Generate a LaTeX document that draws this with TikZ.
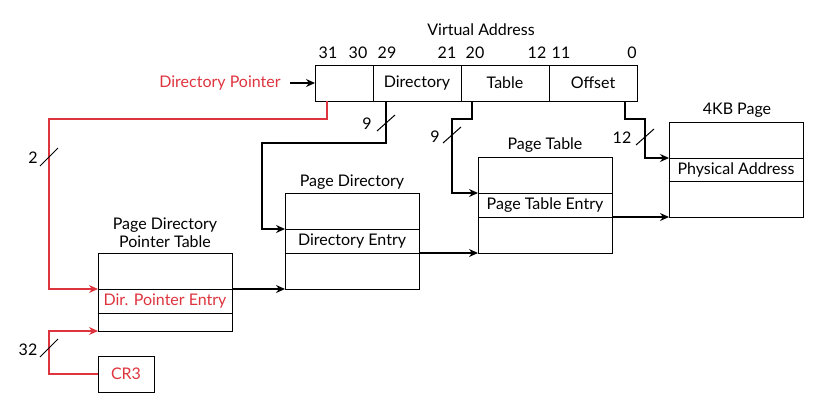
\documentclass[tikz,border=0pt]{standalone}
\usepackage{fontspec}
\setmainfont{Lato}
\usetikzlibrary{arrows.meta,calc}
\definecolor{ptred}{RGB}{222,52,62}
\begin{document}
\begin{tikzpicture}[x=1pt,y=-1pt,
  font=\fontsize{16}{18}\selectfont,
  every node/.style={outer sep=0pt},
  cell/.style={draw,line width=1pt,rectangle,inner sep=0pt,anchor=north west,minimum width=134pt},
  vcell/.style={draw,line width=1pt,rectangle,inner sep=0pt,anchor=north west,minimum height=36pt},
  conn/.style={line width=1.3pt,-{Stealth[length=9pt,width=8pt]}},
  redconn/.style={conn,draw=ptred,-{Stealth[length=9pt,width=8pt,fill=ptred]}},
  slash/.style={line width=1pt},
  lbl/.style={inner sep=0pt}]
\useasboundingbox (0,0) rectangle (818,402);
% Virtual address
\node[lbl] (vatitle) at (481,30) {Virtual Address};
\node[vcell,minimum width=58pt] (va0) at (315,65) {};
\node[vcell,minimum width=88pt] (va1) at (373,65) {Directory};
\node[vcell,minimum width=88pt] (va2) at (461,65) {Table};
\node[vcell,minimum width=88pt] (va3) at (549,65) {Offset};
\node[lbl] (b31) at (328,53) {31};
\node[lbl] (b30) at (358,53) {30};
\node[lbl] (b29) at (387,53) {29};
\node[lbl] (b21) at (447,53) {21};
\node[lbl] (b20) at (475,53) {20};
\node[lbl] (b12) at (537,53) {12};
\node[lbl] (b11) at (561,53) {11};
\node[lbl] (b0) at (632,53) {0};
\node[lbl,text=ptred] (dp) at (220,83) {Directory Pointer};
\draw[conn] (290,83) -- (va0.west);
% PDPT
\node[lbl,align=center,font=\fontsize{16}{18}\selectfont] (pdpttitle) at (165,233) {Page Directory\\Pointer Table};
\node[cell,minimum height=36pt] (pdpt1) at (98,253) {};
\node[cell,minimum height=24pt,text=ptred] (pdpt2) at (98,289) {Dir. Pointer Entry};
\node[cell,minimum height=18pt] (pdpt3) at (98,313) {};
\node[draw,line width=1pt,rectangle,inner sep=0pt,anchor=north west,minimum width=56pt,minimum height=36pt,text=ptred] (cr3) at (98,356) {CR3};
% Page directory
\node[lbl] (pdtitle) at (352,182) {Page Directory};
\node[cell,minimum height=36pt] (pd1) at (285,193) {};
\node[cell,minimum height=24pt] (pd2) at (285,229) {Directory Entry};
\node[cell,minimum height=36pt] (pd3) at (285,253) {};
% Page table
\node[lbl] (pttitle) at (545,145) {Page Table};
\node[cell,minimum height=36pt] (pt1) at (478,157) {};
\node[cell,minimum height=24pt] (pt2) at (478,193) {Page Table Entry};
\node[cell,minimum height=36pt] (pt3) at (478,217) {};
% 4KB page
\node[lbl] (pgtitle) at (737,110) {4KB Page};
\node[cell,minimum height=36pt] (pg1) at (669,122) {};
\node[cell,minimum height=23pt] (pg2) at (669,158) {Physical Address};
\node[cell,minimum height=36pt] (pg3) at (669,181) {};
% turning points
\coordinate (rl) at (49,119);
\coordinate (dl) at (262,143);
\coordinate (tl) at (452,119);
\coordinate (ol) at (645,119);
% red connectors
\draw[redconn] ([xshift=12pt]va0.south west) -- ([xshift=12pt]va0.south west |- rl) -- (rl) -- (rl |- pdpt2.north west) -- (pdpt2.north west);
\draw[redconn] (cr3.west) -- (cr3.west -| rl) -- (rl |- pdpt3.south west) -- (pdpt3.south west);
% black connectors
\draw[conn] ([xshift=13pt]va1.south west) -- ([xshift=13pt]va1.south west |- dl) -- (dl) -- (dl |- pd2.north west) -- (pd2.north west);
\draw[conn] ([xshift=11pt]va2.south west) -- ([xshift=11pt]va2.south west |- tl) -- (tl) -- (tl |- pt2.north west) -- (pt2.north west);
\draw[conn] ([xshift=-12pt]va3.south east) -- ([xshift=-12pt]va3.south east |- ol) -- (ol) -- (ol |- pg2.north west) -- (pg2.north west);
\draw[conn] (pdpt2.north east) -- (pd3.south west);
\draw[conn] (pd2.south east) -- (pt3.south west);
\draw[conn] (pt2.south east) -- (pg3.south west);
% slashes and widths
\draw[slash] (40,166) -- (58,148);
\node[lbl] (w2) at (33,158) {2};
\draw[slash] (40,357) -- (58,339);
\node[lbl] (w32) at (28,350) {32};
\draw[slash] (377,131) -- (395,115);
\node[lbl] (w9a) at (367,124) {9};
\draw[slash] (443,143) -- (461,127);
\node[lbl] (w9b) at (435,137) {9};
\draw[slash] (636,145) -- (654,129);
\node[lbl] (w12) at (622,138) {12};
\end{tikzpicture}
\end{document}
